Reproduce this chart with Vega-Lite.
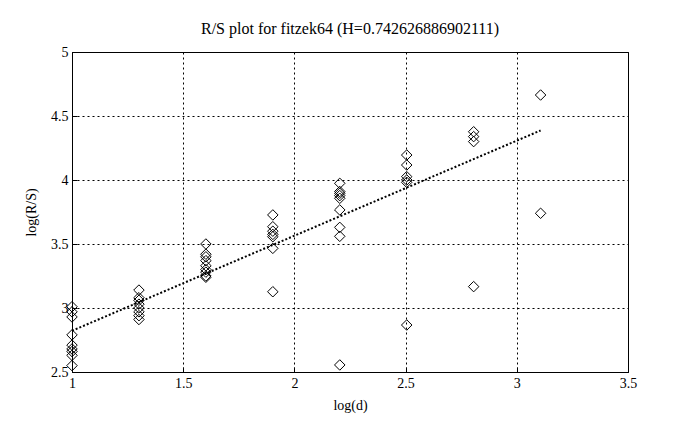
{
  "$schema": "https://vega.github.io/schema/vega-lite/v6.json",
  "width": 556,
  "height": 320,
  "autosize": {"type": "none"},
  "padding": {"left": 72, "top": 52, "right": 58, "bottom": 58},
  "background": "white",
  "title": {"text": "R/S plot for fitzek64 (H=0.742626886902111)", "font": "Liberation Serif", "fontSize": 16, "fontWeight": "normal", "color": "black", "offset": 8},
  "config": {
    "view": {"stroke": "black", "strokeWidth": 1},
    "axis": {
      "labelFont": "Liberation Serif", "labelFontSize": 14, "labelColor": "black", "labelFlush": false,
      "titleFont": "Liberation Serif", "titleFontSize": 14, "titleFontWeight": "normal", "titleColor": "black",
      "domainColor": "black", "tickColor": "black", "tickSize": -5,
      "grid": true, "gridColor": "black", "gridOpacity": 1, "gridDash": [2, 3], "gridWidth": 1
    }
  },
  "datasets": {
    "pts": [
      {"logd": 1.0, "logrs": 3.01}, {"logd": 1.0, "logrs": 2.97}, {"logd": 1.0, "logrs": 2.93},
      {"logd": 1.0, "logrs": 2.79}, {"logd": 1.0, "logrs": 2.71}, {"logd": 1.0, "logrs": 2.68},
      {"logd": 1.0, "logrs": 2.66}, {"logd": 1.0, "logrs": 2.63}, {"logd": 1.0, "logrs": 2.55},
      {"logd": 1.301, "logrs": 3.14}, {"logd": 1.301, "logrs": 3.08}, {"logd": 1.301, "logrs": 3.06},
      {"logd": 1.301, "logrs": 3.03}, {"logd": 1.301, "logrs": 3.0}, {"logd": 1.301, "logrs": 2.97},
      {"logd": 1.301, "logrs": 2.94}, {"logd": 1.301, "logrs": 2.91},
      {"logd": 1.602, "logrs": 3.5}, {"logd": 1.602, "logrs": 3.42}, {"logd": 1.602, "logrs": 3.4},
      {"logd": 1.602, "logrs": 3.37}, {"logd": 1.602, "logrs": 3.33}, {"logd": 1.602, "logrs": 3.3},
      {"logd": 1.602, "logrs": 3.28}, {"logd": 1.602, "logrs": 3.25}, {"logd": 1.602, "logrs": 3.24},
      {"logd": 1.903, "logrs": 3.727}, {"logd": 1.903, "logrs": 3.635}, {"logd": 1.903, "logrs": 3.6},
      {"logd": 1.903, "logrs": 3.575}, {"logd": 1.903, "logrs": 3.557}, {"logd": 1.903, "logrs": 3.466},
      {"logd": 1.903, "logrs": 3.127},
      {"logd": 2.204, "logrs": 3.974}, {"logd": 2.204, "logrs": 3.91}, {"logd": 2.204, "logrs": 3.896},
      {"logd": 2.204, "logrs": 3.878}, {"logd": 2.204, "logrs": 3.857}, {"logd": 2.204, "logrs": 3.766},
      {"logd": 2.204, "logrs": 3.63}, {"logd": 2.204, "logrs": 3.56}, {"logd": 2.204, "logrs": 2.555},
      {"logd": 2.505, "logrs": 4.195}, {"logd": 2.505, "logrs": 4.117}, {"logd": 2.505, "logrs": 4.026},
      {"logd": 2.505, "logrs": 4.0}, {"logd": 2.505, "logrs": 3.982}, {"logd": 2.505, "logrs": 2.867},
      {"logd": 2.806, "logrs": 4.377}, {"logd": 2.806, "logrs": 4.339}, {"logd": 2.806, "logrs": 4.3},
      {"logd": 2.806, "logrs": 3.167},
      {"logd": 3.107, "logrs": 4.664}, {"logd": 3.107, "logrs": 3.74}
    ],
    "fit": [
      {"logd": 1.0, "logrs": 2.822},
      {"logd": 3.107, "logrs": 4.387}
    ]
  },
  "layer": [
    {
      "data": {"name": "pts"},
      "mark": {"type": "point", "shape": "diamond", "size": 110, "filled": false, "stroke": "black", "strokeWidth": 1, "opacity": 1},
      "encoding": {
        "x": {"field": "logd", "type": "quantitative", "scale": {"domain": [1, 3.5], "nice": false, "zero": false},
              "axis": {"title": "log(d)", "values": [1, 1.5, 2, 2.5, 3, 3.5], "format": "~g", "labelFlush": false, "labelPadding": 9, "titlePadding": 8}},
        "y": {"field": "logrs", "type": "quantitative", "scale": {"domain": [2.5, 5], "nice": false, "zero": false},
              "axis": {"title": "log(R/S)", "values": [2.5, 3, 3.5, 4, 4.5, 5], "format": "~g", "labelFlush": false, "labelPadding": 9, "titlePadding": 12}}
      }
    },
    {
      "data": {"name": "fit"},
      "mark": {"type": "line", "color": "black", "strokeWidth": 2, "strokeDash": [2, 2]},
      "encoding": {
        "x": {"field": "logd", "type": "quantitative"},
        "y": {"field": "logrs", "type": "quantitative"}
      }
    }
  ]
}
